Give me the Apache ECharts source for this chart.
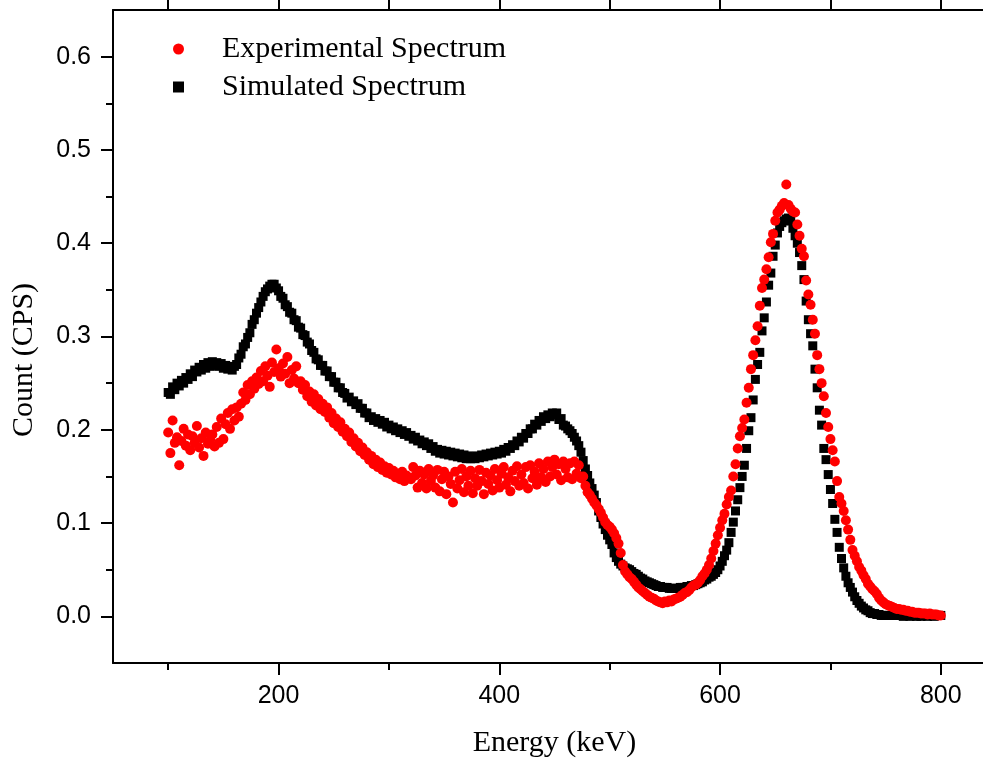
<!DOCTYPE html>
<html>
<head>
<meta charset="utf-8">
<script src="https://cdn.jsdelivr.net/npm/echarts@6/dist/echarts.min.js"></script>
<style>
html,body{margin:0;padding:0;background:#fff;}
#chart{width:983px;height:763px;}
</style>
</head>
<body>
<div id="chart"></div>
<script>
// Energy grid (keV): channels from 100 to 800 keV, 2 keV apart
const energyStart = 100;
const energyStep = 2;

// Simulated spectrum (CPS), one value per channel
const simulatedCPS = [
.240,.238,.246,.243,.250,.247,.253,.250,.256,.254,
.260,.257,.264,.262,.267,.264,.270,.266,.272,.268,
.273,.269,.272,.268,.271,.266,.269,.265,.267,.264,
.268,.270,.277,.281,.289,.292,.299,.304,.313,.318,
.325,.331,.337,.343,.348,.351,.354,.356,.356,.352,
.349,.343,.341,.334,.332,.326,.325,.318,.317,.310,
.309,.302,.301,.294,.292,.285,.283,.276,.275,.269,
.269,.263,.263,.257,.257,.251,.251,.245,.245,.240,
.239,.234,.235,.230,.231,.227,.228,.223,.223,.218,
.218,.213,.214,.210,.212,.208,.210,.206,.208,.203,
.205,.201,.203,.199,.201,.197,.199,.195,.197,.193,
.194,.190,.192,.188,.189,.185,.187,.183,.185,.180,
.182,.177,.179,.175,.178,.174,.177,.173,.176,.172,
.175,.171,.174,.170,.173,.169,.172,.169,.171,.169,
.172,.170,.173,.171,.174,.172,.175,.173,.176,.174,
.177,.175,.179,.177,.181,.180,.184,.183,.188,.187,
.192,.191,.196,.196,.201,.201,.206,.205,.210,.209,
.214,.212,.216,.214,.218,.216,.218,.211,.212,.205,
.204,.201,.199,.196,.192,.188,.183,.176,.167,.158,
.151,.143,.137,.130,.122,.113,.106,.099,.093,.087,
.082,.077,.068,.063,.059,.056,.054,.052,.051,.050,
.048,.046,.045,.043,.041,.040,.038,.037,.036,.035,
.034,.033,.032,.032,.031,.031,.031,.030,.030,.030,
.030,.030,.031,.031,.031,.032,.032,.033,.033,.034,
.035,.036,.037,.039,.040,.042,.043,.045,.047,.050,
.054,.059,.065,.071,.079,.090,.101,.113,.125,.138,
.150,.162,.180,.199,.213,.232,.254,.270,.283,.306,
.320,.337,.355,.368,.386,.398,.411,.418,.422,.424,
.426,.427,.424,.416,.408,.400,.390,.376,.361,.338,
.318,.303,.290,.265,.245,.221,.205,.180,.168,.152,
.136,.121,.104,.090,.074,.062,.052,.043,.036,.031,
.026,.021,.017,.014,.011,.009,.007,.006,.004,.003,
.003,.002,.002,.001,.001,.001,.001,.001,.001,.001,
.001,.001,.001,.000,.001,.001,.000,.001,.001,.000,
.001,.000,.001,.001,.000,.001,.001,.000,.001,.001,
.001
];

// Experimental spectrum (CPS), one value per channel
const experimentalCPS = [
.197,.175,.210,.186,.192,.162,.188,.201,.183,.195,
.178,.193,.186,.204,.181,.191,.172,.197,.185,.189,
.195,.182,.203,.186,.212,.190,.206,.218,.201,.222,
.210,.224,.214,.228,.240,.232,.248,.238,.252,.244,
.256,.249,.263,.252,.268,.258,.246,.272,.262,.286,
.266,.257,.271,.260,.278,.250,.264,.255,.268,.250,
.252,.243,.248,.236,.241,.230,.238,.226,.233,.222,
.228,.219,.224,.213,.218,.207,.212,.203,.208,.198,
.201,.193,.197,.187,.191,.182,.186,.177,.181,.173,
.176,.168,.172,.163,.168,.160,.165,.157,.161,.154,
.159,.152,.156,.149,.153,.147,.155,.145,.151,.148,
.147,.160,.151,.138,.156,.143,.152,.137,.158,.145,
.151,.138,.157,.134,.147,.155,.131,.150,.142,.122,
.155,.137,.146,.158,.133,.150,.140,.156,.132,.148,
.140,.157,.145,.131,.154,.142,.151,.135,.158,.146,
.138,.153,.160,.141,.149,.134,.156,.145,.161,.140,
.152,.143,.160,.137,.162,.148,.155,.141,.164,.149,
.158,.144,.166,.150,.160,.168,.152,.163,.146,.166,
.158,.149,.164,.147,.166,.153,.162,.148,.150,.140,
.133,.130,.126,.122,.119,.115,.111,.106,.101,.098,
.096,.093,.089,.084,.078,.068,.055,.048,.045,.042,
.040,.037,.034,.031,.029,.027,.025,.023,.021,.020,
.019,.017,.016,.015,.014,.016,.015,.017,.016,.018,
.019,.020,.021,.023,.025,.026,.028,.031,.033,.034,
.036,.039,.043,.046,.050,.055,.062,.070,.078,.087,
.095,.103,.110,.120,.128,.135,.150,.163,.180,.193,
.202,.211,.229,.245,.265,.280,.296,.311,.333,.352,
.361,.372,.385,.401,.410,.424,.433,.436,.440,.443,
.463,.441,.437,.434,.433,.420,.408,.394,.386,.360,
.345,.334,.318,.303,.280,.265,.250,.236,.218,.203,
.190,.178,.166,.145,.128,.121,.113,.103,.093,.082,
.071,.065,.059,.053,.049,.044,.040,.035,.032,.029,
.027,.024,.020,.017,.015,.013,.012,.011,.010,.009,
.008,.008,.007,.007,.006,.006,.005,.005,.004,.004,
.004,.003,.003,.003,.002,.003,.002,.002,.002,.001,
.001
];

// Axis ticks and labels
const xMajorTicks = [200, 400, 600, 800];
const xMinorTicks = [100, 300, 500, 700];
const xTopTicks = [100, 200, 300, 400, 500, 600, 700, 800];
const yMajorTicks = [0, 0.1, 0.2, 0.3, 0.4, 0.5, 0.6];
const yTickLabels = ['0.0', '0.1', '0.2', '0.3', '0.4', '0.5', '0.6'];
const yMinorTicks = [0.05, 0.15, 0.25, 0.35, 0.45, 0.55];
const seriesNames = ['Experimental Spectrum', 'Simulated Spectrum'];
const xTitle = 'Energy (keV)';
const yTitle = 'Count (CPS)';

function pairs(values) {
  return values.map((v, i) => [energyStart + i * energyStep, v]);
}

const axisLineStyle = { color: '#000', width: 2 };
const sans = '"Liberation Sans", Arial, sans-serif';
const serif = '"Liberation Serif", "Times New Roman", serif';

const chart = echarts.init(document.getElementById('chart'), null, { renderer: 'canvas' });
chart.setOption({
  animation: false,
  backgroundColor: '#fff',
  grid: { left: 113, right: -13, top: 10, bottom: 100, containLabel: false, outerBoundsMode: 'none' },
  legend: {
    orient: 'vertical', left: 168, top: 29,
    itemWidth: 11, itemHeight: 11, itemGap: 8,
    data: seriesNames,
    itemStyle: { opacity: 1 },
    textStyle: { fontFamily: serif, fontSize: 30, color: '#000', padding: [0, 0, 0, 33] }
  },
  xAxis: [
    {
      type: 'value', position: 'bottom', min: 50, max: 850,
      axisLine: { show: true, onZero: false, lineStyle: axisLineStyle },
      axisTick: { show: true, length: 12, customValues: xMajorTicks, lineStyle: axisLineStyle },
      axisLabel: { customValues: xMajorTicks, fontFamily: sans, fontSize: 25, color: '#000', margin: 21 },
      splitLine: { show: false },
      name: xTitle, nameLocation: 'middle', nameGap: 65,
      nameTextStyle: { fontFamily: serif, fontSize: 30, color: '#000' }
    },
    {
      type: 'value', position: 'bottom', min: 50, max: 850,
      axisLine: { show: false, onZero: false },
      axisTick: { show: true, length: 7, customValues: xMinorTicks, lineStyle: axisLineStyle },
      axisLabel: { show: false }, splitLine: { show: false }
    },
    {
      type: 'value', position: 'top', min: 50, max: 850,
      axisLine: { show: true, onZero: false, lineStyle: axisLineStyle },
      axisTick: { show: true, length: 10, customValues: xTopTicks, lineStyle: axisLineStyle },
      axisLabel: { show: false }, splitLine: { show: false }
    }
  ],
  yAxis: [
    {
      type: 'value', position: 'left', min: -0.05, max: 0.65,
      axisLine: { show: true, onZero: false, lineStyle: axisLineStyle },
      axisTick: { show: true, length: 12, customValues: yMajorTicks, lineStyle: axisLineStyle },
      axisLabel: {
        customValues: yMajorTicks,
        formatter: (v) => yTickLabels[yMajorTicks.findIndex(t => Math.abs(t - v) < 1e-9)],
        fontFamily: sans, fontSize: 25, color: '#000', margin: 22
      },
      splitLine: { show: false }
    },
    {
      type: 'value', position: 'left', min: -0.05, max: 0.65,
      axisLine: { show: false, onZero: false },
      axisTick: { show: true, length: 7, customValues: yMinorTicks, lineStyle: axisLineStyle },
      axisLabel: { show: false }, splitLine: { show: false }
    }
  ],
  graphic: [
    {
      type: 'text', x: 24, y: 360, rotation: Math.PI / 2,
      style: { text: yTitle, font: '30px ' + serif, fill: '#000', align: 'center', verticalAlign: 'middle' }
    }
  ],
  series: [
    {
      type: 'scatter', name: seriesNames[1], xAxisIndex: 0, yAxisIndex: 0,
      data: pairs(simulatedCPS), symbol: 'rect', symbolSize: 9,
      itemStyle: { color: '#000', opacity: 1 }
    },
    {
      type: 'scatter', name: seriesNames[0], xAxisIndex: 0, yAxisIndex: 0,
      data: pairs(experimentalCPS), symbol: 'circle', symbolSize: 10,
      itemStyle: { color: '#ff0000', opacity: 1 }
    }
  ]
});
</script>
</body>
</html>
